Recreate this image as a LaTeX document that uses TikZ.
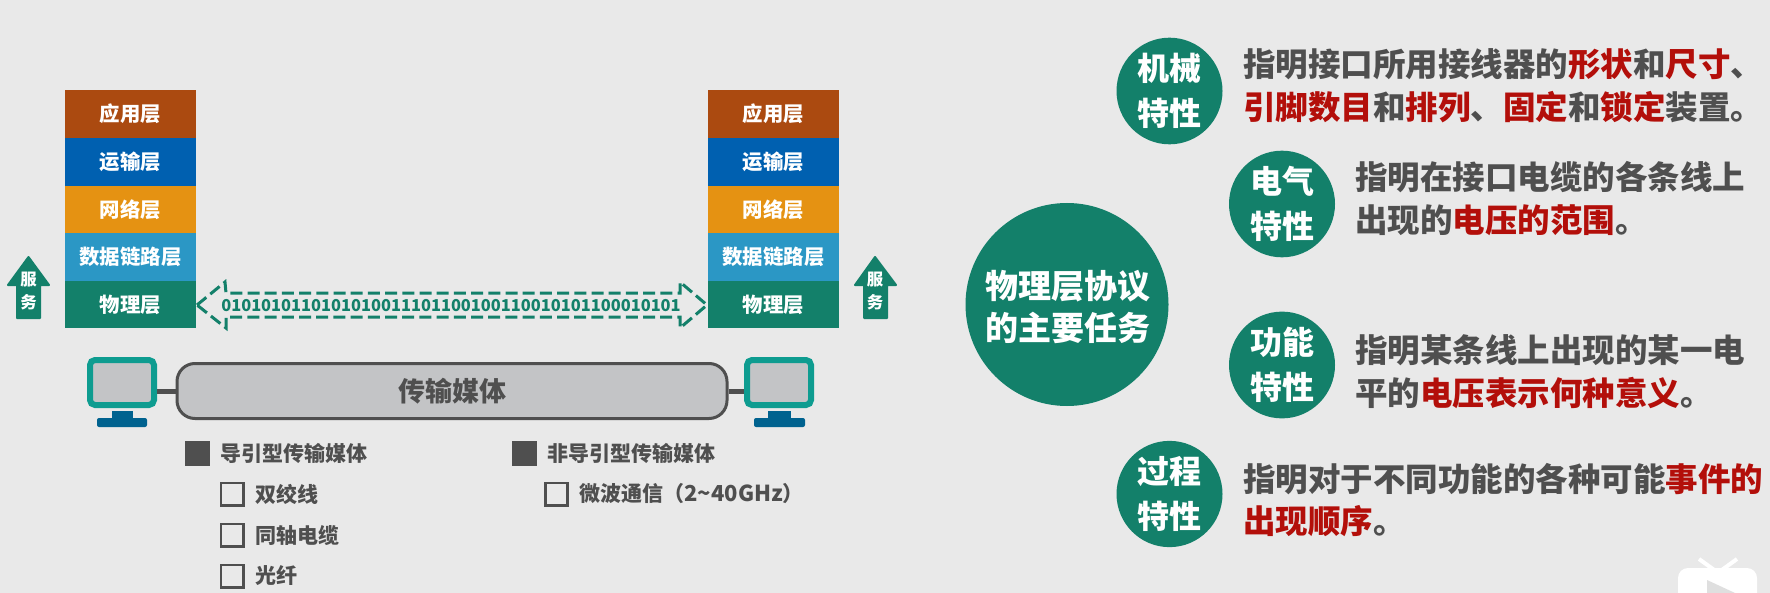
\documentclass[tikz,border=0pt]{standalone}
\usepackage{fontspec}
\setmainfont{Noto Sans CJK SC}
\usetikzlibrary{shapes.geometric, positioning}
\definecolor{pagegray}{HTML}{E9E9E9}
\definecolor{appbrown}{HTML}{AB4A10}
\definecolor{tranblue}{HTML}{0060B0}
\definecolor{netorange}{HTML}{E59212}
\definecolor{linkblue}{HTML}{2B97C5}
\definecolor{phygreen}{HTML}{13806A}
\definecolor{pcteal}{HTML}{0E9C90}
\definecolor{pcstand}{HTML}{00628F}
\definecolor{screengray}{HTML}{C3C4C6}
\definecolor{textgray}{HTML}{4F4F4F}
\definecolor{keyred}{HTML}{B30F0A}
\newcommand{\hl}[1]{\textcolor{keyred}{#1}}
\tikzset{
    layerbox/.style={minimum width=65.5pt, minimum height=23.75pt, inner sep=0pt, text=white, font=\fontsize{10.2}{12}\selectfont\bfseries},
    svcarrow/.style={fill=phygreen, draw=phygreen, line width=1pt, line join=round},
    svctext/.style={inner sep=0pt, text=white, align=center, font=\fontsize{8.2}{11.5}\selectfont\bfseries},
    pcscreen/.style={draw=pcteal, fill=screengray, line width=3pt, rounded corners=2.5pt, minimum width=32pt, minimum height=22.5pt, inner sep=0pt},
    listtext/.style={anchor=west, inner sep=0pt, text=textgray, font=\fontsize{10.5}{12}\selectfont\bfseries},
    fullbox/.style={fill=textgray, minimum size=12.5pt, inner sep=0pt},
    openbox/.style={draw=textgray, line width=1.3pt, minimum size=11.2pt, inner sep=0pt},
    topic/.style={ellipse, fill=phygreen, minimum width=53pt, minimum height=53pt, inner sep=0pt, text=white, align=center, font=\fontsize{16}{22.5}\selectfont\bfseries},
    detail/.style={anchor=west, inner sep=0pt, text=textgray, align=left, font=\fontsize{16.25}{21.3}\selectfont\bfseries},
}

\begin{document}
\begin{tikzpicture}[x=0.5pt, y=-0.5pt]
    \clip (0,0) rectangle (1770,593);
    \fill[pagegray] (0,0) rectangle (1770,593);

    % Left stack
    \node[layerbox, fill=appbrown] at (130.5,114) (appL) {应用层};
    \node[layerbox, fill=tranblue] at (130.5,162) (tranL) {运输层};
    \node[layerbox, fill=netorange] at (130.5,209.5) (netL) {网络层};
    \node[layerbox, fill=linkblue] at (130.5,257) (linkL) {数据链路层};
    \node[layerbox, fill=phygreen] at (130.5,304.5) (phyL) {物理层};

    % Right stack
    \node[layerbox, fill=appbrown] at (773.5,114) (appR) {应用层};
    \node[layerbox, fill=tranblue] at (773.5,162) (tranR) {运输层};
    \node[layerbox, fill=netorange] at (773.5,209.5) (netR) {网络层};
    \node[layerbox, fill=linkblue] at (773.5,257) (linkR) {数据链路层};
    \node[layerbox, fill=phygreen] at (773.5,304.5) (phyR) {物理层};

    % Service arrows
    \draw[svcarrow] (28.5,257) -- (49,285) -- (40,285) -- (40,318) -- (17,318) -- (17,285) -- (8,285) -- cycle;
    \node[svctext] at (28.5,291) (svcL) {服\\务};
    \draw[svcarrow] (875,257) -- (896,285) -- (887,285) -- (887,318) -- (864,318) -- (864,285) -- (855,285) -- cycle;
    \node[svctext] at (875,291) (svcR) {服\\务};

    % Bit stream
    \draw[phygreen, line width=1.5pt, dash pattern=on 6pt off 2.6pt, line join=miter]
        (197,305) -- (225,282) -- (226,293) -- (680,293) -- (680,282) -- (707,305) -- (680,328) -- (680,317) -- (226,317) -- (226,328) -- cycle;
    \node[inner sep=0pt, text=phygreen, font=\fontsize{8.2}{11}\selectfont\bfseries] at (451,306) (bits) {0101010110101010011101100100110010101100010101};

    % Medium and computers
    \node[draw=textgray, fill=screengray, line width=1.5pt, rounded corners=9pt, minimum width=275pt, minimum height=27.5pt, inner sep=0pt, text=textgray, font=\fontsize{13.5}{16}\selectfont\bfseries] at (452,391) (media) {传输媒体};
    \node[pcscreen] at (122,382.5) (pcL) {};
    \node[pcscreen] at (779,382.5) (pcR) {};
    \draw[textgray, line width=2.5pt] (media.west) -- (media.west -| pcL.east);
    \draw[textgray, line width=2.5pt] (media.east) -- (media.east -| pcR.west);
    \fill[pcstand] (112,411) rectangle (133,418);
    \fill[pcstand, rounded corners=1pt] (97,418) rectangle (147,427);
    \fill[pcstand] (768,411) rectangle (791,418);
    \fill[pcstand, rounded corners=1pt] (754,418) rectangle (805,427);

    % Guided media
    \node[fullbox] at (197.5,453.5) (guidedbox) {};
    \node[listtext] at (220,453.5) (guided) {导引型传输媒体};
    \node[openbox] at (232,494) (twistbox) {};
    \node[listtext] at (255,494) (twist) {双绞线};
    \node[openbox] at (232,535) (coaxbox) {};
    \node[listtext] at (255,535) (coax) {同轴电缆};
    \node[openbox] at (232,576) (fiberbox) {};
    \node[listtext] at (255,576) (fiber) {光纤};

    % Unguided media
    \node[fullbox] at (524.5,453.5) (unguidedbox) {};
    \node[listtext] at (547,453.5) (unguided) {非导引型传输媒体};
    \node[openbox] at (556.5,494) (microbox) {};
    \node[listtext] at (579,494) (micro) {微波通信（{\fontsize{11}{12}\selectfont 2\textasciitilde 40GHz}）};

    % Protocol tasks
    \node[circle, fill=phygreen, minimum size=101.5pt, inner sep=0pt] at (1067,304.5) (task) {};
    \node[inner sep=0pt, text=white, align=center, font=\fontsize{16.5}{21}\selectfont\bfseries] at (1068,307) (tasktext) {物理层协议\\的主要任务};

    \node[topic] at (1169.5,91) (mech) {机械\\特性};
    \node[detail] at (1243,86) (mechtext) {指明接口所用接线器的\hl{形状}和\hl{尺寸}、\\\hl{引脚数目}和\hl{排列}、\hl{固定}和\hl{锁定}装置。};
    \node[topic] at (1282,204) (elec) {电气\\特性};
    \node[detail] at (1355,198.5) (electext) {指明在接口电缆的各条线上\\出现的\hl{电压的范围}。};
    \node[topic] at (1282,365) (func) {功能\\特性};
    \node[detail] at (1355,371.5) (functext) {指明某条线上出现的某一电\\平的\hl{电压表示何种意义}。};
    \node[topic] at (1169.5,494) (proc) {过程\\特性};
    \node[detail] at (1243,500) (proctext) {指明对于不同功能的各种可能\hl{事件的}\\\hl{出现顺序}。};

    % Player mark
    \draw[white, line width=2pt] (1699,559) -- (1717,572);
    \draw[white, line width=2pt] (1737,559) -- (1719,572);
    \node[fill=white, rounded corners=5pt, minimum width=39.5pt, minimum height=25pt, inner sep=0pt] at (1717.5,593) (player) {};
    \fill[gray!25] (1707,580) -- (1735,593) -- (1707,593) -- cycle;
\end{tikzpicture}
\end{document}
